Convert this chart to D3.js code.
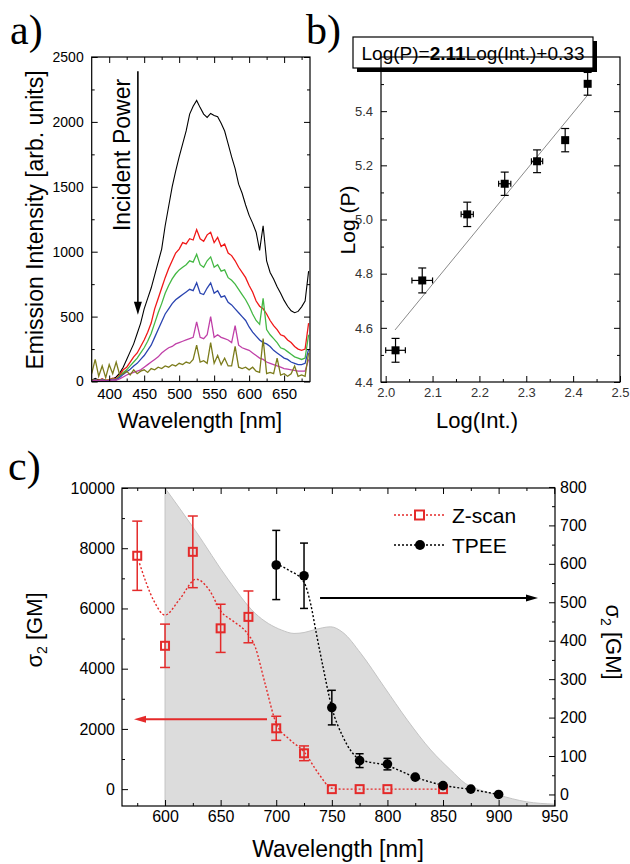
<!DOCTYPE html>
<html><head><meta charset="utf-8">
<script src="https://cdn.jsdelivr.net/npm/d3@7"></script>
<style>body{margin:0;background:#fff} svg{display:block}</style>
</head><body><svg id="c" width="630" height="864"></svg>
<script>
// ---------- Panel a: emission spectra ----------
const wavelengthsA = [375,380,385,390,395,400,405,410,415,420,425,430,435,440,445,450,455,460,465,470,475,480,485,490,495,500,505,510,515,520,525,530,535,540,545,550,555,560,565,570,575,580,585,590,595,600,605,610,615,620,625,630,635,640,645,650,655,660,665,670,675,680,685];
const specBlack = [10,25,12,18,8,10,20,35,65,110, 170,230,290,370,450,560,640,720,820,920, 1020,1200,1350,1500,1620,1730,1830,1930,2060,2120, 2165,2110,2060,2035,2065,2050,2040,1990,1930,1830, 1730,1640,1520,1450,1360,1280,1220,1150,1010,1200, 930,840,790,730,680,625,580,545,530,540, 575,620,850];
const specRed = [10,15,8,20,10,15,25,20,50,90, 110,150,190,220,270,320,380,450,560,640, 720,800,870,930,990,1020,1070,1060,1100,1090, 1170,1100,1080,1130,1150,1070,1110,1040,1060,990, 970,930,880,840,800,740,690,620,580,560, 520,470,430,400,360,350,320,300,270,250, 240,250,450];
const specGreen = [8,12,5,15,8,10,20,15,40,70, 90,120,150,180,220,260,310,370,450,530, 600,680,740,790,830,860,880,900,930,920, 980,900,880,930,960,880,900,850,860,800, 780,750,710,670,630,580,520,470,440,640, 400,360,330,300,260,250,230,210,190,180, 170,180,360];
const specBlue = [5,10,5,12,6,8,15,12,30,55, 75,95,120,140,170,200,240,280,340,400, 460,520,560,600,630,650,670,690,710,700, 760,680,670,720,760,680,700,650,660,610, 590,560,530,500,470,420,380,350,320,300, 290,270,240,220,200,180,170,150,140,130, 130,140,250];
const specMagenta = [5,8,4,10,5,6,12,10,20,35, 50,60,70,80,90,110,130,150,170,190, 220,240,260,270,290,300,310,320,330,340, 460,340,330,360,500,340,360,340,330,320, 300,430,280,260,250,240,220,200,180,170, 150,140,130,120,110,100,95,90,85,80, 80,80,170];
const specOlive = [60,170,40,120,30,130,60,150,50,60, 80,50,90,60,80,90,70,100,90,110, 100,120,110,130,120,140,130,150,140,170, 280,150,160,140,300,140,200,130,180,120, 120,270,110,100,110,90,110,80,70,330, 60,70,60,180,50,60,40,60,120,40, 50,40,220];
const spectraColors = ["#000000","#f01818","#44b844","#2a44b0","#c040a8","#7c7c1c"];
const xTicksA = [400,450,500,550,600,650];
const xMinorA = [425,475,525,575,625,675];
const yTicksA = [0,500,1000,1500,2000,2500];
const yMinorA = [250,750,1250,1750,2250];

// ---------- Panel b: power law ----------
const logInt = [2.021,2.078,2.174,2.254,2.323,2.383,2.431];
const logP = [4.517,4.775,5.019,5.132,5.215,5.293,5.501];
const logPErr = [0.044,0.046,0.045,0.043,0.042,0.043,0.042];
const logIntErr = [0.021,0.022,0.013,0.013,0.012,0,0];
const fitSlope = 2.11, fitIntercept = 0.33, fitRange = [2.02,2.43];
const xTicksB = [2.0,2.1,2.2,2.3,2.4,2.5];
const xMinorB = [2.05,2.15,2.25,2.35,2.45];
const yTicksB = [4.4,4.6,4.8,5.0,5.2,5.4];
const yMinorB = [4.5,4.7,4.9,5.1,5.3,5.5];

// ---------- Panel c: two-photon cross sections ----------
const zWl = [575,600,625,650,675,700,725,750,775,800,850];
const zVal = [7750,4760,7880,5340,5720,2020,1190,0,0,0,0];
const zErr = [1150,720,1190,800,860,400,245,0,0,0,0];
const zFitWl = [577,590,600,613,628,640,650,662,673,681,690,700,712,725,738,750,760,850];
const zFitVal = [7500,6250,5780,6300,6970,6600,5920,5560,5220,4730,3500,2180,1650,1240,520,30,0,0];
const tWl = [700,725,750,775,800,825,850,875,900];
const tVal = [597,569,226,88,79,45,23,14,0];
const tErr = [90,85,45,18,15,0,0,0,0];
const tFitWl = [700,711,725,731,736,742,750,760,775,800,825,850,875,900];
const tFitVal = [600,584,552,495,420,333,226,150,92,75,45,24,13,0];
const absWl = [600,627,657,681,705,716,725,734,749,760,776,797,818,839,857,870,885,900,925,950];
const absVal = [10000,8600,6950,5840,5280,5170,5200,5290,5390,5200,4510,3400,2290,1300,630,190,-50,-200,-420,-500];
const xTicksC = [600,650,700,750,800,850,900,950];
const xMinorC = [575,625,675,725,775,825,875,925];
const yTicksC = [0,2000,4000,6000,8000,10000];
const yMinorC = [1000,3000,5000,7000,9000];
const y2TicksC = [0,100,200,300,400,500,600,700,800];
const y2MinorC = [50,150,250,350,450,550,650,750];

const FONT = '"Liberation Sans", Arial, Helvetica, sans-serif';
const SERIF = '"Liberation Serif", "Times New Roman", serif';
const svg = d3.select("#c");

function addAxis(parent, orient, scale, pos, values, opts) {
  const gen = {bottom:d3.axisBottom, top:d3.axisTop, left:d3.axisLeft, right:d3.axisRight}[orient](scale)
    .tickValues(values).tickSize(-opts.len).tickPadding(opts.pad || 4)
    .tickFormat(opts.fmt || (() => ""));
  const tr = (orient === "bottom" || orient === "top") ? `translate(0,${pos})` : `translate(${pos},0)`;
  const g = parent.append("g").attr("transform", tr).call(gen);
  g.select(".domain").remove();
  g.selectAll("line").attr("stroke", "#000").attr("stroke-width", 1);
  g.selectAll("text").attr("font-family", FONT).attr("font-size", opts.fs || 12).attr("fill", opts.color || "#000");
  return g;
}
function frame(x0, x1, y0, y1) {
  svg.append("rect").attr("x", x0).attr("y", y0).attr("width", x1 - x0).attr("height", y1 - y0)
    .attr("fill", "none").attr("stroke", "#000").attr("stroke-width", 1.2);
}
function clip(id, x0, x1, y0, y1) {
  svg.append("clipPath").attr("id", id).append("rect").attr("x", x0).attr("y", y0).attr("width", x1 - x0).attr("height", y1 - y0);
}
function arrowHead(g, x, y, dir, color, len, half) {
  g.append("path").attr("d", `M${x},${y} L${x - dir*len},${y - half} L${x - dir*len},${y + half} Z`).attr("fill", color);
}

// ================= Panel a =================
const xA = d3.scaleLinear().domain([375, 687]).range([91.7, 310]);
const yA = d3.scaleLinear().domain([0, 2500]).range([381.5, 57]);
clip("clipA", xA.range()[0], xA.range()[1], yA.range()[1], yA.range()[0]);
const gA = svg.append("g");
const spectra = [specBlack, specRed, specGreen, specBlue, specMagenta, specOlive];
const lineA = d3.line().x((d, i) => xA(wavelengthsA[i])).y(d => yA(d));
const gSpec = gA.append("g").attr("clip-path", "url(#clipA)");
spectra.forEach((s, k) => {
  gSpec.append("path").attr("d", lineA(s)).attr("fill", "none").attr("stroke", spectraColors[k]).attr("stroke-width", k === 0 ? 1.1 : 1.3);
});
addAxis(gA, "bottom", xA, yA.range()[0], xTicksA, {len: 6, fmt: d3.format("d"), pad: 7, fs: 15});
addAxis(gA, "bottom", xA, yA.range()[0], xMinorA, {len: 3});
addAxis(gA, "top", xA, yA.range()[1], xTicksA, {len: 6});
addAxis(gA, "top", xA, yA.range()[1], xMinorA, {len: 3});
addAxis(gA, "left", yA, xA.range()[0], yTicksA, {len: 6, fmt: d3.format("d"), pad: 8, fs: 14});
addAxis(gA, "left", yA, xA.range()[0], yMinorA, {len: 3});
addAxis(gA, "right", yA, xA.range()[1], yTicksA, {len: 6});
addAxis(gA, "right", yA, xA.range()[1], yMinorA, {len: 3});
frame(xA.range()[0], xA.range()[1], yA.range()[1], yA.range()[0]);
// incident power arrow
const arrX = xA(441);
gA.append("line").attr("x1", arrX).attr("x2", arrX).attr("y1", yA(2390)).attr("y2", yA(560)).attr("stroke", "#000").attr("stroke-width", 1.6);
gA.append("path").attr("d", `M${arrX},${yA(515)} l-4,-13 l8,0 Z`).attr("fill", "#000");
gA.append("text").attr("transform", `translate(130,${yA(1745)}) rotate(-90)`).attr("text-anchor", "middle")
  .attr("font-family", FONT).attr("font-size", 23).text("Incident Power");
gA.append("text").attr("transform", "translate(43,220) rotate(-90)").attr("text-anchor", "middle")
  .attr("font-family", FONT).attr("font-size", 23).text("Emission Intensity [arb. units]");
gA.append("text").attr("x", 200).attr("y", 428).attr("text-anchor", "middle")
  .attr("font-family", FONT).attr("font-size", 22).text("Wavelength [nm]");
svg.append("text").attr("x", 10).attr("y", 44).attr("font-family", SERIF).attr("font-size", 42).text("a)");

// ================= Panel b =================
const xB = d3.scaleLinear().domain([1.99, 2.5]).range([381, 620]);
const yB = d3.scaleLinear().domain([4.4, 5.6]).range([382, 57]);
const gB = svg.append("g");
addAxis(gB, "bottom", xB, yB.range()[0], xTicksB, {len: 6, fmt: d3.format(".1f"), pad: 6, fs: 13, color: "#333"});
addAxis(gB, "bottom", xB, yB.range()[0], xMinorB, {len: 3});
addAxis(gB, "left", yB, xB.range()[0], yTicksB, {len: 6, fmt: d3.format(".1f"), pad: 8, fs: 13, color: "#333"});
addAxis(gB, "left", yB, xB.range()[0], yMinorB, {len: 3});
addAxis(gB, "right", yB, xB.range()[1], yTicksB, {len: 6});
addAxis(gB, "right", yB, xB.range()[1], yMinorB, {len: 3});
frame(xB.range()[0], xB.range()[1], yB.range()[1], yB.range()[0]);
// fit line
gB.append("line").attr("x1", xB(fitRange[0])).attr("y1", yB(fitSlope*fitRange[0] + fitIntercept))
  .attr("x2", xB(fitRange[1])).attr("y2", yB(fitSlope*fitRange[1] + fitIntercept))
  .attr("stroke", "#8a8a8a").attr("stroke-width", 1);
logInt.forEach((xv, i) => {
  const cx = xB(xv), cy = yB(logP[i]);
  const y1 = yB(logP[i] + logPErr[i]), y2 = yB(logP[i] - logPErr[i]);
  gB.append("line").attr("x1", cx).attr("x2", cx).attr("y1", y1).attr("y2", y2).attr("stroke", "#000").attr("stroke-width", 1.2);
  [y1, y2].forEach(yy => gB.append("line").attr("x1", cx - 4).attr("x2", cx + 4).attr("y1", yy).attr("y2", yy).attr("stroke", "#000").attr("stroke-width", 1.2));
  if (logIntErr[i] > 0) {
    const x1 = xB(xv - logIntErr[i]), x2 = xB(xv + logIntErr[i]);
    gB.append("line").attr("x1", x1).attr("x2", x2).attr("y1", cy).attr("y2", cy).attr("stroke", "#000").attr("stroke-width", 1.2);
    [x1, x2].forEach(xx => gB.append("line").attr("x1", xx).attr("x2", xx).attr("y1", cy - 3).attr("y2", cy + 3).attr("stroke", "#000").attr("stroke-width", 1.2));
  }
  gB.append("rect").attr("x", cx - 4).attr("y", cy - 4).attr("width", 8).attr("height", 8).attr("fill", "#000");
});
// equation box
gB.append("rect").attr("x", 357).attr("y", 41).attr("width", 240).attr("height", 31).attr("fill", "#000");
gB.append("rect").attr("x", 353).attr("y", 37).attr("width", 240).attr("height", 31).attr("fill", "#fff").attr("stroke", "#000").attr("stroke-width", 1.2);
const eq = gB.append("text").attr("x", 473).attr("y", 60).attr("text-anchor", "middle").attr("font-family", FONT).attr("font-size", 19);
eq.append("tspan").text("Log(P)=");
eq.append("tspan").attr("font-weight", "bold").text("2.11");
eq.append("tspan").text("Log(Int.)+0.33");
gB.append("text").attr("transform", "translate(355,220) rotate(-90)").attr("text-anchor", "middle")
  .attr("font-family", FONT).attr("font-size", 21).text("Log (P)");
gB.append("text").attr("x", 477).attr("y", 428).attr("text-anchor", "middle")
  .attr("font-family", FONT).attr("font-size", 22).text("Log(Int.)");
svg.append("text").attr("x", 306).attr("y", 44).attr("font-family", SERIF).attr("font-size", 42).text("b)");

// ================= Panel c =================
const xC = d3.scaleLinear().domain([561.3, 950.7]).range([122, 555]);
const yC = d3.scaleLinear().domain([-560, 10000]).range([806, 488]);
const yC2 = d3.scaleLinear().domain([-30, 797.3]).range([806, 488]);
clip("clipC", 122, 555, 488, 806);
const gC = svg.append("g");
const gCc = gC.append("g").attr("clip-path", "url(#clipC)");
const area = d3.area().x((d, i) => xC(absWl[i])).y0(yC.range()[0]).y1(d => yC(d)).curve(d3.curveMonotoneX);
gCc.append("path").attr("d", area(absVal)).attr("fill", "#dcdcdc");
const absLine = d3.line().x((d, i) => xC(absWl[i])).y(d => yC(d)).curve(d3.curveMonotoneX);
gCc.append("path").attr("d", absLine(absVal)).attr("fill", "none").attr("stroke", "#c4c4c4").attr("stroke-width", 1);
gCc.append("line").attr("x1", xC(absWl[0])).attr("x2", xC(absWl[0])).attr("y1", yC.range()[0]).attr("y2", yC(absVal[0])).attr("stroke", "#c4c4c4").attr("stroke-width", 1);

const RED = "#e42a2a";
const zLine = d3.line().x((d, i) => xC(zFitWl[i])).y(d => yC(d)).curve(d3.curveMonotoneX);
gCc.append("path").attr("d", zLine(zFitVal)).attr("fill", "none").attr("stroke", RED).attr("stroke-width", 1.4).attr("stroke-dasharray", "2,2");
const tLine = d3.line().x((d, i) => xC(tFitWl[i])).y(d => yC2(d)).curve(d3.curveMonotoneX);
gCc.append("path").attr("d", tLine(tFitVal)).attr("fill", "none").attr("stroke", "#000").attr("stroke-width", 1.4).attr("stroke-dasharray", "2,2");

// axes
addAxis(gC, "bottom", xC, 806, xTicksC, {len: 6, fmt: d3.format("d"), pad: 5, fs: 16});
addAxis(gC, "bottom", xC, 806, xMinorC, {len: 3});
addAxis(gC, "top", xC, 488, xTicksC, {len: 6});
addAxis(gC, "top", xC, 488, xMinorC, {len: 3});
addAxis(gC, "left", yC, 122, yTicksC, {len: 6, fmt: d3.format("d"), pad: 7, fs: 16});
addAxis(gC, "left", yC, 122, yMinorC, {len: 3});
addAxis(gC, "right", yC2, 555, y2TicksC, {len: 6, fmt: d3.format("d"), pad: 5, fs: 16});
addAxis(gC, "right", yC2, 555, y2MinorC, {len: 3});

// Z-scan error bars and markers
zWl.forEach((w, i) => {
  const cx = xC(w), cy = yC(zVal[i]);
  if (zErr[i] > 0) {
    const y1 = yC(zVal[i] + zErr[i]), y2 = yC(zVal[i] - zErr[i]);
    gC.append("line").attr("x1", cx).attr("x2", cx).attr("y1", y1).attr("y2", y2).attr("stroke", RED).attr("stroke-width", 1.5);
    [y1, y2].forEach(yy => gC.append("line").attr("x1", cx - 5).attr("x2", cx + 5).attr("y1", yy).attr("y2", yy).attr("stroke", RED).attr("stroke-width", 1.5));
  }
  gC.append("rect").attr("x", cx - 4).attr("y", cy - 4).attr("width", 8).attr("height", 8)
    .attr("fill", "none").attr("stroke", RED).attr("stroke-width", 2);
});
// TPEE error bars and markers
tWl.forEach((w, i) => {
  const cx = xC(w), cy = yC2(tVal[i]);
  if (tErr[i] > 0) {
    const y1 = yC2(tVal[i] + tErr[i]), y2 = yC2(tVal[i] - tErr[i]);
    gC.append("line").attr("x1", cx).attr("x2", cx).attr("y1", y1).attr("y2", y2).attr("stroke", "#000").attr("stroke-width", 1.5);
    [y1, y2].forEach(yy => gC.append("line").attr("x1", cx - 4).attr("x2", cx + 4).attr("y1", yy).attr("y2", yy).attr("stroke", "#000").attr("stroke-width", 1.5));
  }
  gC.append("circle").attr("cx", cx).attr("cy", cy).attr("r", 4.8).attr("fill", "#000");
});
// axis-indicating arrows
const blackArrowY = yC2(511);
gC.append("line").attr("x1", xC(739.4)).attr("x2", xC(928)).attr("y1", blackArrowY).attr("y2", blackArrowY).attr("stroke", "#000").attr("stroke-width", 2);
arrowHead(gC, xC(935.4), blackArrowY, 1, "#000", 12, 3.5);
const redArrowY = yC(2318);
gC.append("line").attr("x1", xC(691.7)).attr("x2", xC(579)).attr("y1", redArrowY).attr("y2", redArrowY).attr("stroke", RED).attr("stroke-width", 2);
arrowHead(gC, xC(572.1), redArrowY, -1, RED, 12, 3.5);

// legend
const legend = [{name: "Z-scan", color: RED, sym: "sq", y: 515}, {name: "TPEE", color: "#000", sym: "ci", y: 545}];
legend.forEach(l => {
  gC.append("line").attr("x1", 394).attr("x2", 444).attr("y1", l.y).attr("y2", l.y).attr("stroke", l.color).attr("stroke-width", 1.4).attr("stroke-dasharray", "2,2");
  if (l.sym === "sq") gC.append("rect").attr("x", 415).attr("y", l.y - 4.5).attr("width", 9).attr("height", 9).attr("fill", "#fff").attr("stroke", l.color).attr("stroke-width", 2);
  else gC.append("circle").attr("cx", 420).attr("cy", l.y).attr("r", 5).attr("fill", l.color);
  gC.append("text").attr("x", 452).attr("y", l.y + 7.5).attr("font-family", FONT).attr("font-size", 21).text(l.name);
});
frame(122, 555, 488, 806);

// titles
function sigmaTitle(x, y, rot) {
  const t = gC.append("text").attr("transform", `translate(${x},${y}) rotate(${rot})`).attr("text-anchor", "middle")
    .attr("font-family", FONT).attr("font-size", 22);
  t.append("tspan").text("σ");
  t.append("tspan").attr("font-size", 14).attr("dy", 5).text("2");
  t.append("tspan").attr("dy", -5).text(" [GM]");
}
sigmaTitle(42, 630, -90);
sigmaTitle(606, 642, 90);
gC.append("text").attr("x", 338).attr("y", 857).attr("text-anchor", "middle")
  .attr("font-family", FONT).attr("font-size", 23).text("Wavelength [nm]");
svg.append("text").attr("x", 8).attr("y", 480).attr("font-family", SERIF).attr("font-size", 42).text("c)");
</script></body></html>
